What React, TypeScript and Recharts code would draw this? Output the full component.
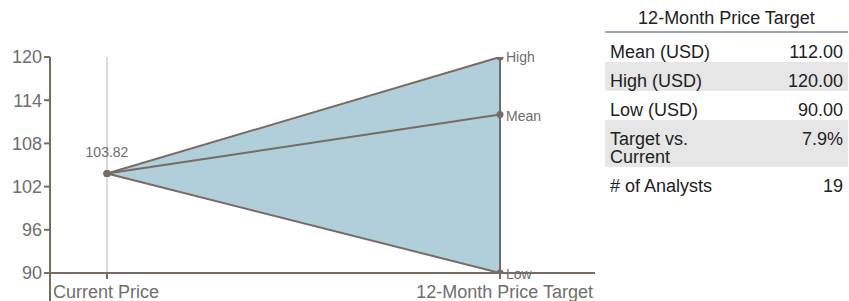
import {
  ComposedChart,
  Area,
  Line,
  XAxis,
  YAxis,
  ReferenceLine,
  LabelList,
} from 'recharts';

const categories = ['Current Price', '12-Month Price Target'];
const highValues = [103.82, 120];
const meanValues = [103.82, 112];
const lowValues = [103.82, 90];
const yTicks = [90, 96, 102, 108, 114, 120];

const tableTitle = '12-Month Price Target';
const tableLabels = ['Mean (USD)', 'High (USD)', 'Low (USD)', 'Target vs. Current', '# of Analysts'];
const tableValues = ['112.00', '120.00', '90.00', '7.9%', '19'];

const data = categories.map((name, i) => ({
  name,
  high: highValues[i],
  mean: meanValues[i],
  low: lowValues[i],
  range: [lowValues[i], highValues[i]],
}));

const LINE = '#776c64';
const TEXT = '#6e6e6e';
const FONT = '"Liberation Sans", Arial, sans-serif';

function XTick({ x, y, payload, index }: any) {
  const first = index === 0;
  return (
    <g>
      {first && <line x1={x - 57} x2={x - 57} y1={y - 8} y2={y + 22} stroke={LINE} strokeWidth={2} />}
      <text
        x={first ? x - 54 : x + 93}
        y={y + 17}
        textAnchor={first ? 'start' : 'end'}
        fontSize={18}
        fill={TEXT}
        fontFamily={FONT}
      >
        {payload.value}
      </text>
    </g>
  );
}

function endLabel(name: string, dy: number) {
  return (props: any) => {
    const { x, y, index } = props;
    if (index !== 1) return null;
    return (
      <text x={x + 6} y={y + dy} dominantBaseline="central" fontSize={14} fill={TEXT} fontFamily={FONT}>
        {name}
      </text>
    );
  };
}

function currentLabel(props: any) {
  const { x, y, index, value } = props;
  if (index !== 0) return null;
  return (
    <text x={x} y={y - 16} textAnchor="middle" fontSize={14} fill={TEXT} fontFamily={FONT}>
      {Number(value).toFixed(2)}
    </text>
  );
}

export default function App() {
  const dot = { r: 3.5, fill: LINE, stroke: LINE, strokeWidth: 0 };
  return (
    <div style={{ position: 'absolute', left: 0, top: 0, width: 849, height: 301, fontFamily: FONT, background: '#fff' }}>
      <ComposedChart width={600} height={301} data={data} margin={{ top: 57, right: 5, bottom: 0, left: 0 }}>
        <XAxis
          dataKey="name"
          scale="point"
          padding={{ left: 57, right: 95 }}
          height={28}
          stroke={LINE}
          strokeWidth={2}
          tickLine={{ stroke: LINE, strokeWidth: 2 }}
          tick={<XTick />}
          interval={0}
        />
        <YAxis
          domain={[90, 120]}
          ticks={yTicks}
          width={50}
          stroke={LINE}
          strokeWidth={2}
          tickLine={{ stroke: LINE, strokeWidth: 2 }}
          tick={{ fontSize: 18, fill: TEXT, fontFamily: FONT }}
          allowDataOverflow
        />
        <ReferenceLine x={categories[0]} stroke="#d9d9d9" strokeWidth={2} />
        <Area
          dataKey="range"
          type="linear"
          stroke="none"
          fill="#b1cfda"
          fillOpacity={1}
          isAnimationActive={false}
          activeDot={false}
        />
        <ReferenceLine x={categories[1]} stroke={LINE} strokeWidth={2} />
        <Line dataKey="high" type="linear" stroke={LINE} strokeWidth={2} dot={dot} isAnimationActive={false} activeDot={false}>
          <LabelList dataKey="high" content={endLabel('High', 0)} />
        </Line>
        <Line dataKey="low" type="linear" stroke={LINE} strokeWidth={2} dot={dot} isAnimationActive={false} activeDot={false}>
          <LabelList dataKey="low" content={endLabel('Low', 1)} />
        </Line>
        <Line dataKey="mean" type="linear" stroke={LINE} strokeWidth={2} dot={dot} isAnimationActive={false} activeDot={false}>
          <LabelList dataKey="mean" content={endLabel('Mean', 1)} />
          <LabelList dataKey="mean" content={currentLabel} />
        </Line>
      </ComposedChart>

      <div style={{ position: 'absolute', left: 605, top: 0, width: 243, color: '#222', fontSize: 18 }}>
        <div
          style={{
            height: 33,
            lineHeight: '28px',
            paddingTop: 4,
            boxSizing: 'border-box',
            textAlign: 'center',
            borderBottom: '2px solid #9ba6b3',
          }}
        >
          {tableTitle}
        </div>
        {tableLabels.map((label, i) => (
          <div
            key={label}
            style={{
              display: 'flex',
              justifyContent: 'space-between',
              padding: '10px 5px 1px 5px',
              lineHeight: '18px',
              background: i % 2 === 1 ? '#e6e6e6' : 'transparent',
            }}
          >
            <div style={{ width: 120 }}>{label}</div>
            <div style={{ textAlign: 'right' }}>{tableValues[i]}</div>
          </div>
        ))}
      </div>
    </div>
  );
}
